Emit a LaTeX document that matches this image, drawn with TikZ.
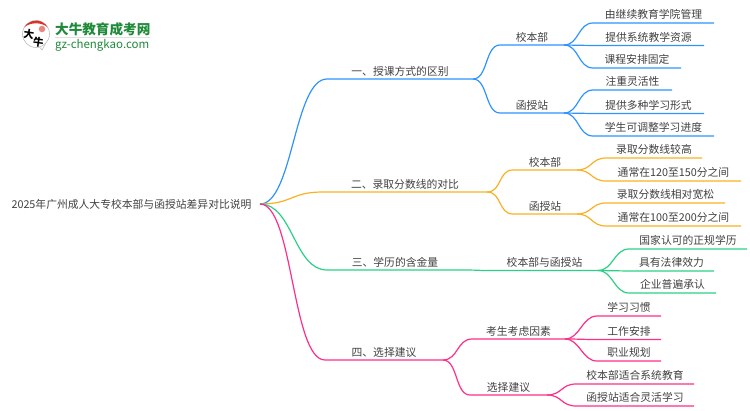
\documentclass[tikz,border=0pt]{standalone}
\usepackage{fontspec}
\setmainfont{Noto Sans CJK SC}
\definecolor{bluel}{HTML}{2E93FF}
\definecolor{orangel}{HTML}{FBB024}
\definecolor{greenl}{HTML}{2BCF86}
\definecolor{pinkl}{HTML}{FF2E88}
\definecolor{textc}{HTML}{404040}
\definecolor{logog}{HTML}{1F8A3A}
\definecolor{logor}{HTML}{D8352A}
\tikzset{
 tx/.style={inner sep=0pt,outer sep=0pt,minimum height=16,anchor=south west,text=textc,font=\fontsize{10.8}{13}\selectfont},
 fork/.style={to path={.. controls +(#1,0) and +(-#1,0) .. (\tikztotarget)}},
 fork/.default=15,
 bl/.style={draw=bluel,line width=1.2pt},
 ol/.style={draw=orangel,line width=1.2pt},
 gl/.style={draw=greenl,line width=1.2pt},
 pl/.style={draw=pinkl,line width=1.2pt}
}
\begin{document}
\begin{tikzpicture}[x=1pt,y=-1pt]
 \useasboundingbox (0,0) rectangle (750,410);
 % logo
 \node[circle,draw=black!25,line width=0.6pt,minimum size=27,inner sep=0pt,outer sep=0pt] (bubble) at (36,34) {};
 \coordinate (tail) at (42,50);
 \draw[draw=black!25,line width=0.6pt] (bubble.-75) -- (tail) -- (bubble.-45);
 \fill[logor] (bubble.150) arc (150:30:13.5 and -13.5) .. controls (42,22) and (30,22) .. (bubble.150);
 \node[circle,fill=logor!60,minimum size=6.5,inner sep=0pt] (seal) at (42,29) {};
 \node[inner sep=0pt,rotate=-8,font=\fontsize{10.5}{11}\bfseries\selectfont] (da) at (29,34) {大};
 \node[inner sep=0pt,rotate=-8,font=\fontsize{10.5}{11}\bfseries\selectfont] (niu) at (38.5,42) {牛};
 \node[inner sep=0pt,anchor=west,text=logog,font=\fontsize{13.6}{14}\bfseries\selectfont] (brand) at (55,29) {大牛教育成考网};
 \node[inner sep=0pt,anchor=west,text=logog,font=\fontsize{11.5}{12}\selectfont] (site) at (55,45) {gz-chengkao.com};
 \draw[draw=black!12,line width=0.8pt] (brand.south west)+(0,2) -- +(95,2);
 % root
 \node[tx,anchor=center,minimum width=257] (root) at (131.5,204) {2025年广州成人大专校本部与函授站差异对比说明};
 % first branch
 \node[tx,minimum width=146] (n1) at (327,79) {一、授课方式的区别};
 \node[tx,minimum width=64] (a) at (500,45) {校本部};
 \node[tx,minimum width=64] (b) at (500,113) {函授站};
 \node[tx,minimum width=121,minimum height=17] (a1) at (593,23) {由继续教育学院管理};
 \node[tx,minimum width=111,minimum height=17] (a2) at (593,45.5) {提供系统教学资源};
 \node[tx,minimum width=88,minimum height=17] (a3) at (593,68) {课程安排固定};
 \node[tx,minimum width=79,minimum height=17] (b1) at (593,90) {注重灵活性};
 \node[tx,minimum width=111,minimum height=17] (b2) at (593,113.5) {提供多种学习形式};
 \node[tx,minimum width=121,minimum height=17] (b3) at (593,136) {学生可调整学习进度};
 \draw[bl] (root.east) to[fork=33] (n1.south west) -- (n1.south east);
 \draw[bl] (n1.south east) to[fork] (a.south west) -- (a.south east);
 \draw[bl] (n1.south east) to[fork] (b.south west) -- (b.south east);
 \draw[bl] (a.south east) to[fork] (a1.south west) -- (a1.south east);
 \draw[bl] (a.south east) to[fork] (a2.south west) -- (a2.south east);
 \draw[bl] (a.south east) to[fork] (a3.south west) -- (a3.south east);
 \draw[bl] (b.south east) to[fork] (b1.south west) -- (b1.south east);
 \draw[bl] (b.south east) to[fork] (b2.south west) -- (b2.south east);
 \draw[bl] (b.south east) to[fork] (b3.south west) -- (b3.south east);
 % second branch
 \node[tx,minimum width=164] (n2) at (323,192) {二、录取分数线的对比};
 \node[tx,minimum width=64] (c) at (513,170) {校本部};
 \node[tx,minimum width=64] (d) at (513,214) {函授站};
 \node[tx,minimum width=96,minimum height=17] (c1) at (606,158) {录取分数线较高};
 \node[tx,minimum width=135,minimum height=17] (c2) at (606,181) {通常在120至150分之间};
 \node[tx,minimum width=119,minimum height=17] (d1) at (606,203) {录取分数线相对宽松};
 \node[tx,minimum width=135,minimum height=17] (d2) at (606,226) {通常在100至200分之间};
 \draw[ol] (root.east) to[fork=33] (n2.south west) -- (n2.south east);
 \draw[ol] (n2.south east) to[fork] (c.south west) -- (c.south east);
 \draw[ol] (n2.south east) to[fork] (d.south west) -- (d.south east);
 \draw[ol] (c.south east) to[fork] (c1.south west) -- (c1.south east);
 \draw[ol] (c.south east) to[fork] (c2.south west) -- (c2.south east);
 \draw[ol] (d.south east) to[fork] (d1.south west) -- (d1.south east);
 \draw[ol] (d.south east) to[fork] (d2.south west) -- (d2.south east);
 % third branch
 \node[tx,minimum width=136] (n3) at (327,270) {三、学历的含金量};
 \node[tx,minimum width=107] (e) at (491,270.5) {校本部与函授站};
 \node[tx,minimum width=118,minimum height=17] (e1) at (629,249) {国家认可的正规学历};
 \node[tx,minimum width=85,minimum height=17] (e2) at (629,271) {具有法律效力};
 \node[tx,minimum width=87,minimum height=17] (e3) at (629,293) {企业普遍承认};
 \draw[gl] (root.east) to[fork=33] (n3.south west) -- (n3.south east);
 \draw[gl] (n3.south east) to[fork] (e.south west) -- (e.south east);
 \draw[gl] (e.south east) to[fork] (e1.south west) -- (e1.south east);
 \draw[gl] (e.south east) to[fork] (e2.south west) -- (e2.south east);
 \draw[gl] (e.south east) to[fork] (e3.south west) -- (e3.south east);
 % fourth branch
 \node[tx,minimum width=118] (n4) at (325,360) {四、选择建议};
 \node[tx,minimum width=93] (f) at (472,339) {考生考虑因素};
 \node[tx,minimum width=77] (g) at (470,395) {选择建议};
 \node[tx,minimum width=64,minimum height=17] (f1) at (597,316) {学习习惯};
 \node[tx,minimum width=64,minimum height=17] (f2) at (597,339.5) {工作安排};
 \node[tx,minimum width=64,minimum height=17] (f3) at (597,361) {职业规划};
 \node[tx,minimum width=118,minimum height=17] (g1) at (576,384) {校本部适合系统教育};
 \node[tx,minimum width=118,minimum height=17] (g2) at (576,406) {函授站适合灵活学习};
 \draw[pl] (root.east) to[fork=33] (n4.south west) -- (n4.south east);
 \draw[pl] (n4.south east) to[fork] (f.south west) -- (f.south east);
 \draw[pl] (n4.south east) to[fork] (g.south west) -- (g.south east);
 \draw[pl] (f.south east) to[fork] (f1.south west) -- (f1.south east);
 \draw[pl] (f.south east) to[fork] (f2.south west) -- (f2.south east);
 \draw[pl] (f.south east) to[fork] (f3.south west) -- (f3.south east);
 \draw[pl] (g.south east) to[fork] (g1.south west) -- (g1.south east);
 \draw[pl] (g.south east) to[fork] (g2.south west) -- (g2.south east);
\end{tikzpicture}
\end{document}
